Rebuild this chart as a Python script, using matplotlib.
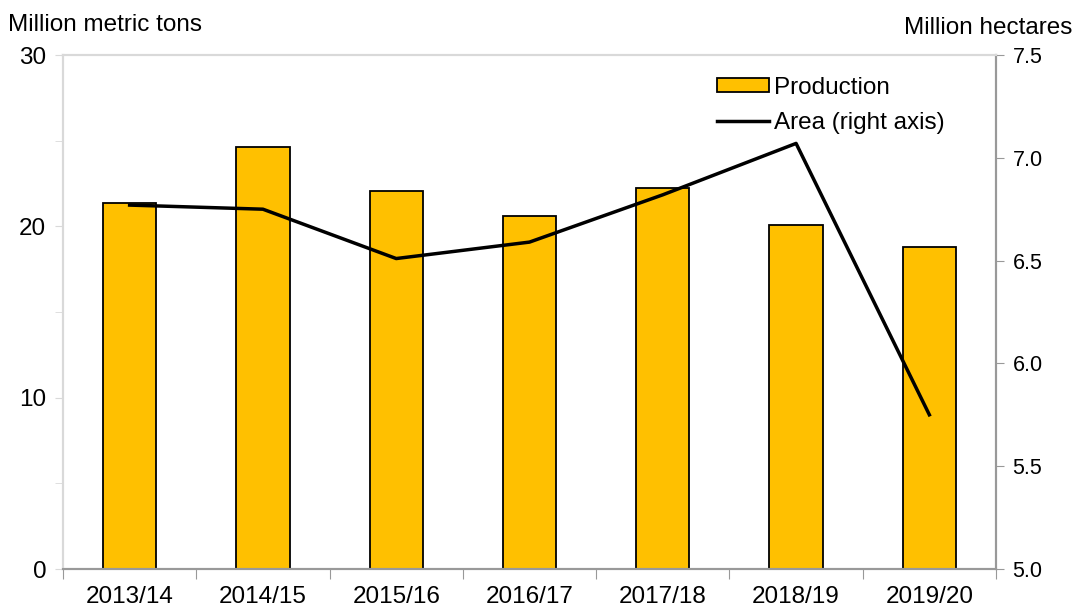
import matplotlib.pyplot as plt
from matplotlib.ticker import MultipleLocator

plt.rcParams['font.family'] = ['Liberation Sans', 'DejaVu Sans']

years = ['2013/14', '2014/15', '2015/16', '2016/17', '2017/18', '2018/19', '2019/20']
production = [21.35, 24.65, 22.05, 20.6, 22.25, 20.05, 18.8]
area = [6.77, 6.75, 6.51, 6.59, 6.82, 7.07, 5.75]

fig = plt.figure(figsize=(10.77, 6.06), dpi=100)
ax = fig.add_axes([63 / 1077, 1 - 569 / 606, 933 / 1077, 514 / 606])
ax2 = ax.twinx()

x = range(len(years))
bars = ax.bar(x, production, width=0.4, color='#FFC000', edgecolor='black',
              linewidth=1.3, label='Production', zorder=2)
line, = ax2.plot(x, area, color='black', linewidth=2.5, label='Area (right axis)')

ax.set_xlim(-0.5, 6.5)
ax.set_ylim(0, 30)
ax2.set_ylim(5.0, 7.5)
ax.set_xticks([i + 0.5 for i in range(-1, 7)], minor=False)
ax.set_xticklabels([])
ax.set_xticks(list(x), minor=True)
ax.set_xticklabels(years, minor=True)
ax.tick_params(axis='x', which='major', length=7, color='#999999', direction='out')
ax.tick_params(axis='x', which='minor', length=0, labelsize=17.5, pad=12)

ax.yaxis.set_major_locator(MultipleLocator(10))
ax.yaxis.set_minor_locator(MultipleLocator(5))
ax.tick_params(axis='y', which='both', length=6, color='#d9d9d9', labelsize=17.5, pad=6)
ax2.yaxis.set_major_locator(MultipleLocator(0.5))
ax2.yaxis.set_major_formatter(plt.FormatStrFormatter('%.1f'))
ax2.tick_params(axis='y', length=6, color='#999999', labelsize=15.5, pad=6)

for a in (ax, ax2):
    a.spines['left'].set_color('#d9d9d9')
    a.spines['top'].set_color('#d9d9d9')
    a.spines['right'].set_color('#999999')
    a.spines['bottom'].set_color('#999999')
    for s in a.spines.values():
        s.set_linewidth(1.5)

fig.text(8 / 1077, 1 - 25 / 606, 'Million metric tons', fontsize=17.5, va='center', ha='left')
fig.text(1072 / 1077, 1 - 28 / 606, 'Million hectares', fontsize=17.5, va='center', ha='right')

leg = ax.legend([bars, line], ['Production', 'Area (right axis)'], loc='upper left',
                bbox_to_anchor=(0.677, 1.0), frameon=False, fontsize=17.5,
                handlelength=2.15, handleheight=0.5, handletextpad=0.2,
                labelspacing=0.55)

fig.savefig('out.png', dpi=100)
